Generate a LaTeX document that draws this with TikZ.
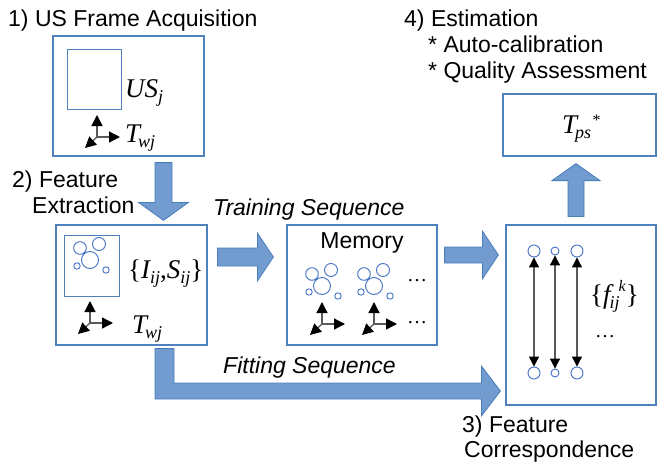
\documentclass[tikz,border=0pt]{standalone}
\usepackage{fontspec}
\setmainfont{Liberation Sans}
\newfontfamily\tms{Liberation Serif}
\usetikzlibrary{arrows.meta,calc}

\definecolor{boxblue}{RGB}{79,129,189}
\definecolor{ringblue}{RGB}{68,114,196}
\definecolor{arrowfill}{RGB}{114,155,208}
\definecolor{arrowedge}{RGB}{74,126,187}

% italic symbol, lowered index, raised index
\newcommand\ital[1]{{\tms\itshape #1}}
\newcommand\lowidx[1]{\raisebox{-5pt}{\fontsize{18}{18}\selectfont\tms\itshape #1}}
\newcommand\highidx[2]{\raisebox{#1}{\fontsize{16}{16}\selectfont\tms #2}}

% straight block arrow: start, end, shaft half width, head half width, head length
\newcommand\blockarrow[5]{%
  \coordinate (ba-s) at #1;
  \coordinate (ba-e) at #2;
  \coordinate (ba-h) at ($(ba-e)!#5!(ba-s)$);
  \draw[barrow] ($(ba-s)!#3!90:(ba-e)$) -- ($(ba-h)!#3!-90:(ba-s)$)
    -- ($(ba-h)!#4!-90:(ba-s)$) -- (ba-e) -- ($(ba-h)!#4!90:(ba-s)$)
    -- ($(ba-h)!#3!90:(ba-s)$) -- ($(ba-s)!#3!-90:(ba-e)$) -- cycle;
}

\begin{document}
\begin{tikzpicture}[x=1pt,y=-1pt,
  box/.style={draw=boxblue,line width=1.2pt,fill=white,inner sep=0pt,rectangle},
  inbox/.style={draw=boxblue,line width=1pt,inner sep=0pt,rectangle},
  ring/.style={draw=ringblue,line width=0.9pt},
  dot/.style={circle,draw=ringblue,line width=0.9pt,inner sep=0pt},
  barrow/.style={fill=arrowfill,draw=arrowedge,line width=0.8pt,line join=miter},
  lbl/.style={inner sep=0pt,anchor=base west,font=\fontsize{23}{26}\selectfont},
  seq/.style={lbl,font=\fontsize{23}{26}\selectfont\itshape},
  symb/.style={inner sep=0pt,anchor=base west,font=\fontsize{27}{30}\selectfont\tms},
  ell/.style={inner sep=0pt,font=\fontsize{20}{20}\selectfont\tms},
  axline/.style={draw=black!65,line width=1.3pt,-{Triangle[length=11pt,width=11pt,color=black]}},
  link/.style={draw=black!65,line width=1.1pt,{Triangle[length=10pt,width=10pt,color=black]}-{Triangle[length=10pt,width=10pt,color=black]}},
  frame/.pic={\draw[axline] (0,0) -- (0,-22);
              \draw[axline] (0,0) -- (23,0);
              \draw[axline] (0,0) -- (-12,11);},
  blobs/.pic={\draw[ring] (-10,-12) circle (6.3pt) (9,-16) circle (6.5pt) (0,0) circle (8.5pt)
              (-13,6) circle (3.2pt) (16,10) circle (3.2pt);}
]
\useasboundingbox (0,0) rectangle (657,466);

% --- boxes ---
\node[box,minimum width=151,minimum height=120] (b1) at (128.5,96) {};
\node[box,minimum width=151,minimum height=120] (b2) at (131.5,285) {};
\node[box,minimum width=150,minimum height=120] (mem) at (362,285) {};
\node[box,minimum width=150,minimum height=180] (b3) at (581,315) {};
\node[box,minimum width=153,minimum height=62] (b4) at (579.5,125) {};

% --- 1) frame acquisition ---
\node[inbox,minimum width=54,minimum height=60] (img1) at (94,79) {};
\node[symb] (usj) at (125,97) {\ital{US}\lowidx{j}};
\pic at (97,137) {frame};
\node[symb] (tw1) at (125,142) {\ital{T}\kern-2pt\lowidx{wj}};

% --- 2) feature extraction ---
\node[inbox,minimum width=55,minimum height=61] (img2) at (91.5,265.5) {};
\pic at (90,260) {blobs};
\node[symb] (feat) at (128,278) {\{\ital{I}\lowidx{ij},\ital{S}\lowidx{ij}\}};
\pic at (90,323) {frame};
\node[symb] (tw2) at (132,333) {\ital{T}\kern-2pt\lowidx{wj}};

% --- memory ---
\node[lbl,anchor=base] (memt) at (362,248) {Memory};
\pic at (322,286) {blobs};
\pic at (374,286) {blobs};
\node[ell] (md1) at (417,281) {\dots};
\pic at (322,324) {frame};
\pic at (374,324) {frame};
\node[ell] (md2) at (417,323) {\dots};

% --- 3) correspondence ---
\node[dot,minimum size=12pt] (u1) at (534,251) {};
\node[dot,minimum size=8pt]  (u2) at (555,251) {};
\node[dot,minimum size=12pt] (u3) at (577,251) {};
\node[dot,minimum size=12pt] (d1) at (534,373) {};
\node[dot,minimum size=8pt]  (d2) at (555,373) {};
\node[dot,minimum size=12pt] (d3) at (577,373) {};
\draw[link] (u1) -- (d1);
\draw[link] (u2) -- (d2);
\draw[link] (u3) -- (d3);
\node[symb] (fk) at (590,303) {\{\ital{f}\kern-1pt\lowidx{ij}\kern-1pt\highidx{12pt}{\itshape k}\}};
\node[ell] (fd) at (605,337) {\dots};

% --- 4) estimation ---
\node[symb] (tps) at (562,133) {\ital{T}\kern-2pt\lowidx{ps}\kern1.5pt\highidx{8pt}{*}};

% --- block arrows ---
\blockarrow{($(b1.south)+(35,6)$)}{($(b2.north)+(32,-4)$)}{8.5pt}{25pt}{18pt}
\blockarrow{($(b2.east)+(10,-28)$)}{($(mem.west)+(-13,-28)$)}{9pt}{24pt}{16pt}
\blockarrow{($(mem.east)+(7,-30)$)}{($(b3.west)+(-7,-60)$)}{8pt}{24pt}{16pt}
\blockarrow{($(b3.north)+(-5,-8)$)}{($(b4.south)+(-3.5,7)$)}{8pt}{24pt}{17pt}

% bent arrow carrying the fitting sequence
\coordinate (fa) at ($(b2.south)+(33,3)$);
\coordinate (fb) at ($(b3.west)+(-5,76)$);
\draw[barrow] ($(fa)+(-9.5,0)$) -- ($(fa)+(9.5,0)$) -- ($(fa |- fb)+(9.5,-8)$)
  -- ($(fb)+(-19,-8)$) -- ($(fb)+(-19,-25)$) -- (fb) -- ($(fb)+(-19,25)$)
  -- ($(fb)+(-19,8)$) -- ($(fa |- fb)+(-9.5,8)$) -- cycle;

% --- labels ---
\node[lbl] (l1) at (8,26) {1) US Frame Acquisition};
\node[lbl] (l2a) at (12,187) {2) Feature};
\node[lbl] (l2b) at (32,213) {Extraction};
\node[lbl] (l3a) at (462,432) {3) Feature};
\node[lbl] (l3b) at (464,457) {Correspondence};
\node[lbl] (l4a) at (404,26) {4) Estimation};
\node[lbl] (l4b) at (428,52) {* Auto-calibration};
\node[lbl] (l4c) at (428,78) {* Quality Assessment};
\node[seq] (trs) at (213,215) {Training Sequence};
\node[seq] (fts) at (223,373) {Fitting Sequence};
\end{tikzpicture}
\end{document}
